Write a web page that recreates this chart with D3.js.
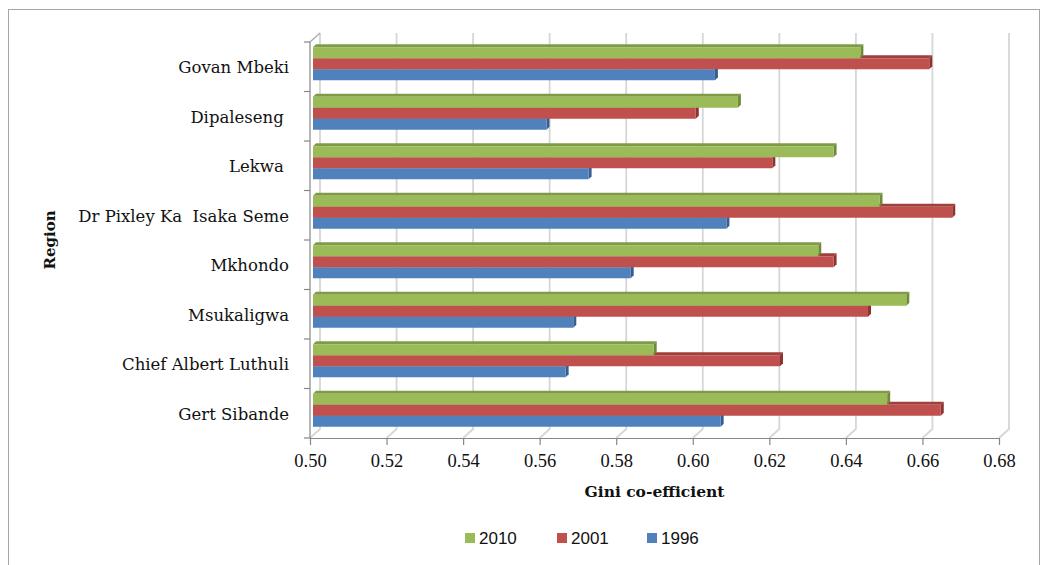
<!DOCTYPE html>
<html>
<head>
<meta charset="utf-8">
<script src="https://cdn.jsdelivr.net/npm/d3@7"></script>
<style>
  html, body { margin: 0; padding: 0; background: #ffffff; }
  svg { display: block; }
  .cat text { white-space: pre; }
</style>
</head>
<body>
<script>
// Regions, drawn top to bottom
const categories = [
  "Govan Mbeki",
  "Dipaleseng ",
  "Lekwa ",
  "Dr Pixley Ka  Isaka Seme",
  "Mkhondo",
  "Msukaligwa",
  "Chief Albert Luthuli",
  "Gert Sibande"
];

// Series (years), in stacking order within each region
const years = ["2010", "2001", "1996"];

// Gini co-efficient per region for each year
const gini2010 = [0.643, 0.611, 0.636, 0.648, 0.632, 0.655, 0.589, 0.650];
const gini2001 = [0.661, 0.600, 0.620, 0.667, 0.636, 0.645, 0.622, 0.664];
const gini1996 = [0.605, 0.561, 0.572, 0.608, 0.583, 0.568, 0.566, 0.6065];

// Value axis ticks
const xTicks = [0.50, 0.52, 0.54, 0.56, 0.58, 0.60, 0.62, 0.64, 0.66, 0.68];

const seriesValues = { "2010": gini2010, "2001": gini2001, "1996": gini1996 };
const fillColor  = { "2010": "#9BBB59", "2001": "#C0504D", "1996": "#4F81BD" };
const sideColor  = { "2010": "#6F8A38", "2001": "#8C3230", "1996": "#365E8E" };
const topColor   = { "2010": "#7E9C45", "2001": "#A0403D", "1996": "#3F6DA3" };

const W = 1044, H = 565;
const svg = d3.select("body").append("svg").attr("width", W).attr("height", H);

// Outer chart frame
svg.append("rect")
  .attr("x", 8.5).attr("y", 9.5).attr("width", 1031).attr("height", 600)
  .attr("fill", "none").attr("stroke", "#a6a6a6").attr("stroke-width", 1);

// Front plane scales
const x = d3.scaleLinear().domain([0.50, 0.68]).range([310, 999]);
const y = d3.scaleBand().domain(categories).range([42, 438]).padding(0);
const ySub = d3.scaleBand().domain(years).range([0, y.bandwidth()])
  .paddingInner(0).paddingOuter(0.75);

// 3D offsets: back wall depth, bar plane offset and bar thickness in depth
const wall = { dx: 10, dy: -9 };
const barPlane = { dx: 3, dy: -3 };
const barDepth = { dx: 3, dy: -3 };

const yTop = y.range()[0], yBottom = y.range()[1];

// Back-wall and floor gridlines
const grid = svg.append("g").attr("class", "grid");
grid.selectAll("path").data(xTicks).join("path")
  .attr("d", d => {
    const fx = x(d);
    return `M${fx + wall.dx},${yTop + wall.dy}V${yBottom + wall.dy}L${fx},${yBottom}`;
  })
  .attr("fill", "none").attr("stroke", "#d6d6d6").attr("stroke-width", 1.8);

// Left wall top edge
svg.append("path")
  .attr("d", `M${x(0.5)},${yTop}L${x(0.5) + wall.dx},${yTop + wall.dy}`)
  .attr("fill", "none").attr("stroke", "#a6a6a6").attr("stroke-width", 1.2);

// Bars (lower series first so upper bars hide their top faces)
const bars = svg.append("g").attr("class", "bars");
const drawOrder = years.slice().reverse();
categories.forEach((cat, i) => {
  drawOrder.forEach(yr => {
    const v = seriesValues[yr][i];
    const x0 = x(0.5) + barPlane.dx;
    const x1 = x(v) + barPlane.dx;
    const y0 = y(cat) + ySub(yr) + barPlane.dy;
    const h = ySub.bandwidth();
    const g = bars.append("g");
    // top face
    g.append("path")
      .attr("d", `M${x0},${y0}L${x0 + barDepth.dx},${y0 + barDepth.dy}L${x1 + barDepth.dx},${y0 + barDepth.dy}L${x1},${y0}Z`)
      .attr("fill", topColor[yr]);
    // end face
    g.append("path")
      .attr("d", `M${x1},${y0}L${x1 + barDepth.dx},${y0 + barDepth.dy}L${x1 + barDepth.dx},${y0 + h + barDepth.dy}L${x1},${y0 + h}Z`)
      .attr("fill", sideColor[yr]);
    // front face
    g.append("rect")
      .attr("x", x0).attr("y", y0)
      .attr("width", x1 - x0).attr("height", h)
      .attr("fill", fillColor[yr]);
  });
});

// Category axis line and boundary ticks
const axisColor = "#868686";
svg.append("line")
  .attr("x1", x(0.5)).attr("x2", x(0.5))
  .attr("y1", yTop).attr("y2", yBottom)
  .attr("stroke", axisColor).attr("stroke-width", 1.2);
const bounds = categories.map(c => y(c)).concat([yBottom]);
svg.append("g").selectAll("line").data(bounds).join("line")
  .attr("x1", x(0.5) - 6).attr("x2", x(0.5))
  .attr("y1", d => d).attr("y2", d => d)
  .attr("stroke", axisColor).attr("stroke-width", 1.2);

// Category labels
const catAxis = d3.axisLeft(y).tickSize(0).tickPadding(21);
const catG = svg.append("g").attr("class", "cat")
  .attr("transform", `translate(${x(0.5)},1)`)
  .call(catAxis);
catG.select(".domain").remove();
catG.selectAll("text")
  .attr("font-family", "'DejaVu Serif', serif")
  .attr("font-size", 16.5)
  .attr("fill", "#111111");

// Value axis
const valAxis = d3.axisBottom(x)
  .tickValues(xTicks)
  .tickFormat(d3.format(".2f"))
  .tickSize(7).tickSizeOuter(0).tickPadding(9);
const valG = svg.append("g")
  .attr("transform", `translate(0,${yBottom})`)
  .call(valAxis);
valG.select(".domain").attr("stroke", axisColor).attr("stroke-width", 1.2);
valG.selectAll(".tick line").attr("stroke", axisColor).attr("stroke-width", 1.2);
valG.selectAll("text")
  .attr("font-family", "'Liberation Serif', serif")
  .attr("font-size", 18.5)
  .attr("fill", "#111111");

// Axis titles
svg.append("text")
  .attr("x", (x(0.5) + x(0.68)) / 2).attr("y", 497)
  .attr("text-anchor", "middle")
  .attr("font-family", "'DejaVu Serif', serif")
  .attr("font-weight", "bold").attr("font-size", 15.5)
  .attr("fill", "#111111")
  .text("Gini co-efficient");

svg.append("text")
  .attr("transform", `translate(55,${(yTop + yBottom) / 2}) rotate(-90)`)
  .attr("text-anchor", "middle")
  .attr("font-family", "'DejaVu Serif', serif")
  .attr("font-weight", "bold").attr("font-size", 15)
  .attr("fill", "#111111")
  .text("Region");

// Legend
const legendX = [465, 557, 647];
const legend = svg.append("g").attr("class", "legend");
years.forEach((yr, i) => {
  const g = legend.append("g").attr("transform", `translate(${legendX[i]},533)`);
  g.append("rect").attr("width", 10).attr("height", 10).attr("fill", fillColor[yr]);
  g.append("text")
    .attr("x", 14).attr("y", 11)
    .attr("font-family", "'Liberation Sans', sans-serif")
    .attr("font-size", 17)
    .attr("fill", "#111111")
    .text(yr);
});
</script>
</body>
</html>
